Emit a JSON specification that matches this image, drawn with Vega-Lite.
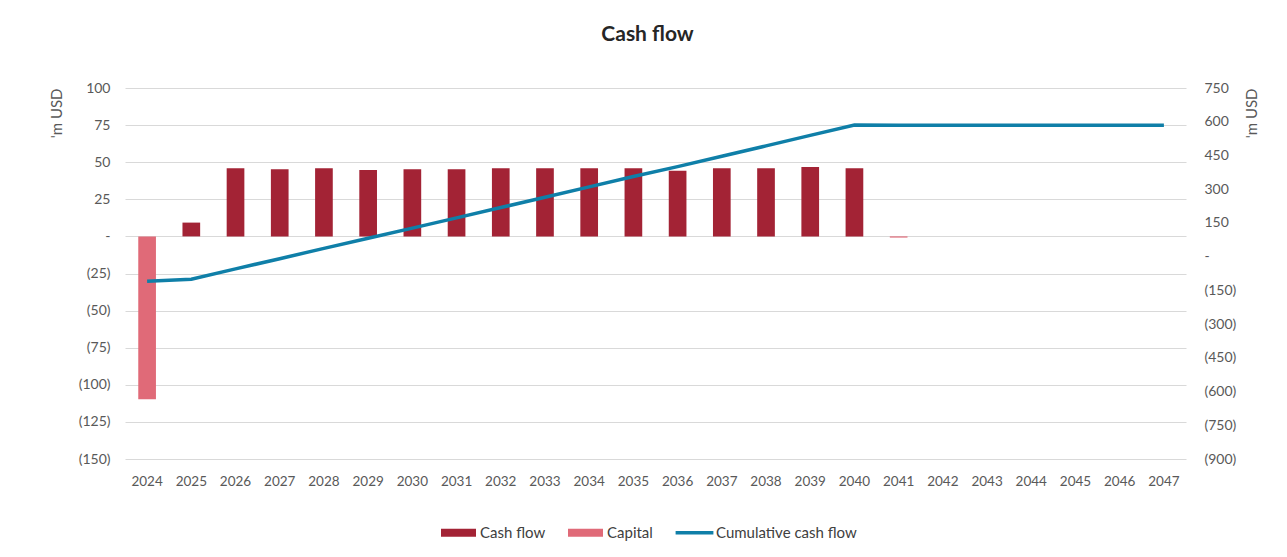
{
  "$schema": "https://vega.github.io/schema/vega-lite/v6.json",
  "width": 1061,
  "height": 371,
  "autosize": {"type": "none"},
  "padding": {"left": 125, "top": 88, "right": 101, "bottom": 98},
  "background": "white",
  "config": {
    "font": "Lato",
    "view": {"stroke": null},
    "axis": {"labelFontSize": 14, "labelColor": "#595959", "titleColor": "#595959", "titleFontWeight": "normal", "titleFontSize": 15}
  },
  "title": {"text": "Cash flow", "fontSize": 21, "fontWeight": "bold", "color": "#262626", "anchor": "middle", "dx": -8, "offset": 36},
  "datasets": {
    "bars": [
      {"year": "2024", "series": "Capital", "value": -109.7},
      {"year": "2025", "series": "Cash flow", "value": 9.3},
      {"year": "2026", "series": "Cash flow", "value": 46.0},
      {"year": "2027", "series": "Cash flow", "value": 45.3},
      {"year": "2028", "series": "Cash flow", "value": 46.0},
      {"year": "2029", "series": "Cash flow", "value": 44.8},
      {"year": "2030", "series": "Cash flow", "value": 45.3},
      {"year": "2031", "series": "Cash flow", "value": 45.3},
      {"year": "2032", "series": "Cash flow", "value": 46.0},
      {"year": "2033", "series": "Cash flow", "value": 46.0},
      {"year": "2034", "series": "Cash flow", "value": 46.0},
      {"year": "2035", "series": "Cash flow", "value": 46.0},
      {"year": "2036", "series": "Cash flow", "value": 44.2},
      {"year": "2037", "series": "Cash flow", "value": 46.0},
      {"year": "2038", "series": "Cash flow", "value": 46.0},
      {"year": "2039", "series": "Cash flow", "value": 46.7},
      {"year": "2040", "series": "Cash flow", "value": 46.0},
      {"year": "2041", "series": "Capital", "value": -0.8}
    ],
    "cum": [
      {"year": "2024", "cumulative": -109.7},
      {"year": "2025", "cumulative": -100.4},
      {"year": "2026", "cumulative": -54.4},
      {"year": "2027", "cumulative": -9.1},
      {"year": "2028", "cumulative": 36.9},
      {"year": "2029", "cumulative": 81.7},
      {"year": "2030", "cumulative": 127.0},
      {"year": "2031", "cumulative": 172.3},
      {"year": "2032", "cumulative": 218.3},
      {"year": "2033", "cumulative": 264.3},
      {"year": "2034", "cumulative": 310.3},
      {"year": "2035", "cumulative": 356.3},
      {"year": "2036", "cumulative": 400.5},
      {"year": "2037", "cumulative": 446.5},
      {"year": "2038", "cumulative": 492.5},
      {"year": "2039", "cumulative": 539.2},
      {"year": "2040", "cumulative": 585.2},
      {"year": "2041", "cumulative": 584.4},
      {"year": "2042", "cumulative": 584.4},
      {"year": "2043", "cumulative": 584.4},
      {"year": "2044", "cumulative": 584.4},
      {"year": "2045", "cumulative": 584.4},
      {"year": "2046", "cumulative": 584.4},
      {"year": "2047", "cumulative": 584.4}
    ]
  },
  "layer": [
    {
      "data": {"name": "bars"},
      "mark": {"type": "bar"},
      "encoding": {
        "x": {
          "field": "year", "type": "ordinal",
          "scale": {"domain": ["2024","2025","2026","2027","2028","2029","2030","2031","2032","2033","2034","2035","2036","2037","2038","2039","2040","2041","2042","2043","2044","2045","2046","2047"], "paddingInner": 0.6, "paddingOuter": 0.3},
          "axis": {"title": null, "labelAngle": 0, "domain": false, "ticks": false, "grid": false, "labelPadding": 15, "labelFontSize": 13.5}
        },
        "y": {
          "field": "value", "type": "quantitative",
          "scale": {"domain": [-150, 100], "nice": false, "zero": false},
          "axis": {
            "title": "'m USD", "titleAnchor": "end", "titlePadding": 14,
            "values": [-150, -125, -100, -75, -50, -25, 0, 25, 50, 75, 100],
            "labelExpr": "datum.value == 0 ? '-\u00a0\u00a0\u00a0' : datum.value < 0 ? '(' + format(-datum.value, ',') + ')' : format(datum.value, ',') + '\u00a0'",
            "grid": true, "gridColor": "#D9D9D9", "gridWidth": 1,
            "domain": false, "ticks": false, "labelPadding": 15
          }
        },
        "color": {
          "field": "series", "type": "nominal",
          "scale": {"domain": ["Cash flow", "Capital", "Cumulative cash flow"], "range": ["#A32335", "#E06A78", "#0F7FA8"]},
          "legend": {
            "title": null, "orient": "none", "legendX": 316, "legendY": 427, "direction": "horizontal",
            "symbolSize": 1225, "symbolStrokeWidth": 0, "symbolOpacity": 1,
            "labelFontSize": 15, "labelColor": "#404040", "labelOffset": 4, "columnPadding": 22,
            "encode": {"symbols": {"update": {"shape": {"signal": "datum.value === 'Cumulative cash flow' ? 'M-1.08,-0.1H1.08V0.1H-1.08Z' : 'M-1,-0.23H1V0.23H-1Z'"}}}}
          }
        }
      }
    },
    {
      "data": {"name": "cum"},
      "mark": {"type": "line", "strokeWidth": 3.5},
      "encoding": {
        "x": {"field": "year", "type": "ordinal"},
        "y": {
          "field": "cumulative", "type": "quantitative",
          "scale": {"domain": [-900, 750], "nice": false, "zero": false},
          "axis": {
            "orient": "right", "title": "'m USD", "titleAnchor": "end", "titleAngle": -90, "titlePadding": 24,
            "values": [-900, -750, -600, -450, -300, -150, 0, 150, 300, 450, 600, 750],
            "labelExpr": "datum.value == 0 ? '-' : datum.value < 0 ? '(' + format(-datum.value, ',') + ')' : format(datum.value, ',')",
            "grid": false, "domain": false, "ticks": false, "labelPadding": 18
          }
        },
        "color": {"datum": "Cumulative cash flow", "legend": null}
      }
    }
  ],
  "resolve": {"scale": {"y": "independent"}}
}
